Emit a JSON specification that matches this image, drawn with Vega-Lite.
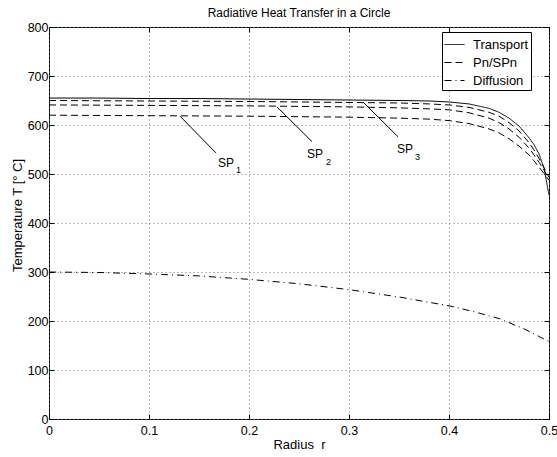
{
  "$schema": "https://vega.github.io/schema/vega-lite/v6.json",
  "width": 500,
  "height": 392,
  "autosize": "none",
  "padding": {"left": 49, "top": 27, "right": 8, "bottom": 38},
  "background": "white",
  "title": {"text": "Radiative Heat Transfer in a Circle", "fontSize": 12, "fontWeight": "normal", "font": "Liberation Sans", "color": "black", "offset": 1},
  "config": {
    "font": "Liberation Sans",
    "view": {"stroke": "black", "strokeWidth": 1},
    "axis": {
      "domain": false,
      "ticks": true,
      "tickColor": "black",
      "tickSize": -5,
      "tickWidth": 1,
      "labelFontSize": 12.5,
      "labelColor": "black",
      "titleFontSize": 13,
      "titleFontWeight": "normal",
      "titleColor": "black",
      "gridColor": "#777",
      "gridDash": [1, 3],
      "gridWidth": 1,
      "gridOpacity": 1,
      "labelFlush": false
    }
  },
  "datasets": {
    "curves": [
      {"r": 0, "T": 655, "series": "Transport", "id": "T"},
      {"r": 0.05, "T": 655, "series": "Transport", "id": "T"},
      {"r": 0.1, "T": 654, "series": "Transport", "id": "T"},
      {"r": 0.15, "T": 654, "series": "Transport", "id": "T"},
      {"r": 0.2, "T": 653, "series": "Transport", "id": "T"},
      {"r": 0.25, "T": 652, "series": "Transport", "id": "T"},
      {"r": 0.3, "T": 651, "series": "Transport", "id": "T"},
      {"r": 0.35, "T": 650, "series": "Transport", "id": "T"},
      {"r": 0.38, "T": 649, "series": "Transport", "id": "T"},
      {"r": 0.4, "T": 647, "series": "Transport", "id": "T"},
      {"r": 0.42, "T": 643, "series": "Transport", "id": "T"},
      {"r": 0.44, "T": 634, "series": "Transport", "id": "T"},
      {"r": 0.45, "T": 626, "series": "Transport", "id": "T"},
      {"r": 0.46, "T": 614, "series": "Transport", "id": "T"},
      {"r": 0.47, "T": 598, "series": "Transport", "id": "T"},
      {"r": 0.48, "T": 574, "series": "Transport", "id": "T"},
      {"r": 0.485, "T": 560, "series": "Transport", "id": "T"},
      {"r": 0.49, "T": 541, "series": "Transport", "id": "T"},
      {"r": 0.495, "T": 512, "series": "Transport", "id": "T"},
      {"r": 0.5, "T": 457, "series": "Transport", "id": "T"},

      {"r": 0, "T": 650, "series": "Pn/SPn", "id": "SP3"},
      {"r": 0.1, "T": 649, "series": "Pn/SPn", "id": "SP3"},
      {"r": 0.2, "T": 648, "series": "Pn/SPn", "id": "SP3"},
      {"r": 0.3, "T": 646, "series": "Pn/SPn", "id": "SP3"},
      {"r": 0.35, "T": 645, "series": "Pn/SPn", "id": "SP3"},
      {"r": 0.38, "T": 643, "series": "Pn/SPn", "id": "SP3"},
      {"r": 0.4, "T": 641, "series": "Pn/SPn", "id": "SP3"},
      {"r": 0.42, "T": 636, "series": "Pn/SPn", "id": "SP3"},
      {"r": 0.44, "T": 626, "series": "Pn/SPn", "id": "SP3"},
      {"r": 0.45, "T": 618, "series": "Pn/SPn", "id": "SP3"},
      {"r": 0.46, "T": 605, "series": "Pn/SPn", "id": "SP3"},
      {"r": 0.47, "T": 588, "series": "Pn/SPn", "id": "SP3"},
      {"r": 0.48, "T": 564, "series": "Pn/SPn", "id": "SP3"},
      {"r": 0.485, "T": 549, "series": "Pn/SPn", "id": "SP3"},
      {"r": 0.49, "T": 532, "series": "Pn/SPn", "id": "SP3"},
      {"r": 0.495, "T": 513, "series": "Pn/SPn", "id": "SP3"},
      {"r": 0.5, "T": 493, "series": "Pn/SPn", "id": "SP3"},

      {"r": 0, "T": 641, "series": "Pn/SPn", "id": "SP2"},
      {"r": 0.1, "T": 640, "series": "Pn/SPn", "id": "SP2"},
      {"r": 0.2, "T": 639, "series": "Pn/SPn", "id": "SP2"},
      {"r": 0.3, "T": 637, "series": "Pn/SPn", "id": "SP2"},
      {"r": 0.35, "T": 635, "series": "Pn/SPn", "id": "SP2"},
      {"r": 0.38, "T": 633, "series": "Pn/SPn", "id": "SP2"},
      {"r": 0.4, "T": 631, "series": "Pn/SPn", "id": "SP2"},
      {"r": 0.42, "T": 625, "series": "Pn/SPn", "id": "SP2"},
      {"r": 0.44, "T": 614, "series": "Pn/SPn", "id": "SP2"},
      {"r": 0.45, "T": 605, "series": "Pn/SPn", "id": "SP2"},
      {"r": 0.46, "T": 592, "series": "Pn/SPn", "id": "SP2"},
      {"r": 0.47, "T": 575, "series": "Pn/SPn", "id": "SP2"},
      {"r": 0.48, "T": 553, "series": "Pn/SPn", "id": "SP2"},
      {"r": 0.485, "T": 539, "series": "Pn/SPn", "id": "SP2"},
      {"r": 0.49, "T": 524, "series": "Pn/SPn", "id": "SP2"},
      {"r": 0.495, "T": 508, "series": "Pn/SPn", "id": "SP2"},
      {"r": 0.5, "T": 490, "series": "Pn/SPn", "id": "SP2"},

      {"r": 0, "T": 620, "series": "Pn/SPn", "id": "SP1"},
      {"r": 0.1, "T": 619, "series": "Pn/SPn", "id": "SP1"},
      {"r": 0.2, "T": 618, "series": "Pn/SPn", "id": "SP1"},
      {"r": 0.3, "T": 616, "series": "Pn/SPn", "id": "SP1"},
      {"r": 0.35, "T": 614, "series": "Pn/SPn", "id": "SP1"},
      {"r": 0.38, "T": 612, "series": "Pn/SPn", "id": "SP1"},
      {"r": 0.4, "T": 609, "series": "Pn/SPn", "id": "SP1"},
      {"r": 0.42, "T": 603, "series": "Pn/SPn", "id": "SP1"},
      {"r": 0.44, "T": 592, "series": "Pn/SPn", "id": "SP1"},
      {"r": 0.45, "T": 584, "series": "Pn/SPn", "id": "SP1"},
      {"r": 0.46, "T": 572, "series": "Pn/SPn", "id": "SP1"},
      {"r": 0.47, "T": 557, "series": "Pn/SPn", "id": "SP1"},
      {"r": 0.48, "T": 539, "series": "Pn/SPn", "id": "SP1"},
      {"r": 0.485, "T": 527, "series": "Pn/SPn", "id": "SP1"},
      {"r": 0.49, "T": 514, "series": "Pn/SPn", "id": "SP1"},
      {"r": 0.495, "T": 501, "series": "Pn/SPn", "id": "SP1"},
      {"r": 0.5, "T": 487, "series": "Pn/SPn", "id": "SP1"},

      {"r": 0, "T": 300, "series": "Diffusion", "id": "D"},
      {"r": 0.05, "T": 299, "series": "Diffusion", "id": "D"},
      {"r": 0.1, "T": 296, "series": "Diffusion", "id": "D"},
      {"r": 0.15, "T": 292, "series": "Diffusion", "id": "D"},
      {"r": 0.2, "T": 285, "series": "Diffusion", "id": "D"},
      {"r": 0.25, "T": 276, "series": "Diffusion", "id": "D"},
      {"r": 0.3, "T": 264, "series": "Diffusion", "id": "D"},
      {"r": 0.35, "T": 249, "series": "Diffusion", "id": "D"},
      {"r": 0.4, "T": 231, "series": "Diffusion", "id": "D"},
      {"r": 0.425, "T": 219, "series": "Diffusion", "id": "D"},
      {"r": 0.45, "T": 205, "series": "Diffusion", "id": "D"},
      {"r": 0.475, "T": 184, "series": "Diffusion", "id": "D"},
      {"r": 0.5, "T": 158, "series": "Diffusion", "id": "D"}
    ],
    "leaders": [
      {"r1": 0.131, "T1": 618, "r2": 0.167, "T2": 543},
      {"r1": 0.228, "T1": 637, "r2": 0.263, "T2": 566},
      {"r1": 0.314, "T1": 647, "r2": 0.349, "T2": 576}
    ],
    "mainlabels": [
      {"r": 0.169, "T": 514, "text": "SP"},
      {"r": 0.258, "T": 533, "text": "SP"},
      {"r": 0.348, "T": 542, "text": "SP"}
    ],
    "sublabels": [
      {"r": 0.187, "T": 502, "text": "1"},
      {"r": 0.277, "T": 518, "text": "2"},
      {"r": 0.366, "T": 529, "text": "3"}
    ]
  },
  "layer": [
    {
      "data": {"name": "curves"},
      "mark": {"type": "line", "strokeWidth": 1, "color": "black", "clip": true},
      "encoding": {
        "x": {"field": "r", "type": "quantitative", "scale": {"domain": [0, 0.5], "nice": false, "zero": false},
              "axis": {"title": "Radius\u00a0\u00a0r", "values": [0, 0.1, 0.2, 0.3, 0.4, 0.5], "format": "~g", "labelPadding": 10, "titlePadding": 2}},
        "y": {"field": "T", "type": "quantitative", "scale": {"domain": [0, 800], "nice": false},
              "axis": {"title": "Temperature T [° C]", "values": [0, 100, 200, 300, 400, 500, 600, 700, 800], "labelPadding": 6, "titlePadding": 3, "titleY": 188}},
        "strokeDash": {"field": "series", "type": "nominal",
          "scale": {"domain": ["Transport", "Pn/SPn", "Diffusion"], "range": [[1, 0], [7, 4], [7, 4, 1, 4]]},
          "legend": {"title": null, "orient": "none", "legendX": 393, "legendY": 5, "fillColor": "white", "strokeColor": "black",
                     "padding": 2, "labelFontSize": 13, "labelColor": "black", "symbolType": "stroke", "symbolSize": 400,
                     "symbolStrokeColor": "black", "symbolStrokeWidth": 1, "rowPadding": -5, "labelOffset": 8}},
        "detail": {"field": "id", "type": "nominal"}
      }
    },
    {
      "data": {"name": "leaders"},
      "mark": {"type": "rule", "color": "black", "strokeWidth": 1},
      "encoding": {
        "x": {"field": "r1", "type": "quantitative", "scale": {"domain": [0, 0.5], "nice": false, "zero": false},
              "axis": {"orient": "top", "title": null, "labels": false, "grid": false, "values": [0, 0.1, 0.2, 0.3, 0.4, 0.5]}},
        "y": {"field": "T1", "type": "quantitative", "scale": {"domain": [0, 800], "nice": false},
              "axis": {"orient": "right", "title": null, "labels": false, "grid": false, "values": [0, 100, 200, 300, 400, 500, 600, 700, 800]}},
        "x2": {"field": "r2"},
        "y2": {"field": "T2"}
      }
    },
    {
      "data": {"name": "mainlabels"},
      "mark": {"type": "text", "align": "left", "baseline": "alphabetic", "fontSize": 12, "color": "black"},
      "encoding": {
        "x": {"field": "r", "type": "quantitative", "axis": null},
        "y": {"field": "T", "type": "quantitative", "axis": null},
        "text": {"field": "text"}
      }
    },
    {
      "data": {"name": "sublabels"},
      "mark": {"type": "text", "align": "left", "baseline": "alphabetic", "fontSize": 9, "color": "black"},
      "encoding": {
        "x": {"field": "r", "type": "quantitative", "axis": null},
        "y": {"field": "T", "type": "quantitative", "axis": null},
        "text": {"field": "text"}
      }
    }
  ],
  "resolve": {"axis": {"x": "independent", "y": "independent"}}
}
